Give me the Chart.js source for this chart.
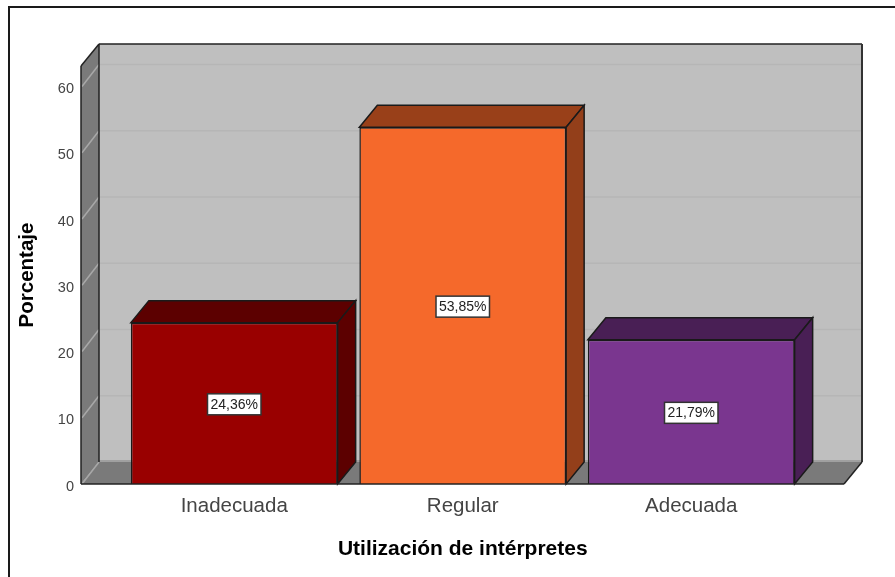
<!DOCTYPE html>
<html>
<head>
<meta charset="utf-8">
<style>
  html, body { margin: 0; padding: 0; background: #fff; overflow: hidden; }
  #frame { position: absolute; left: 8px; top: 6px; width: 887px; height: 571px; border-left: 2px solid #1a1a1a; border-top: 2px solid #1a1a1a; }
  #myChart { position: absolute; left: 0; top: 0; }
</style>
<script src="https://cdn.jsdelivr.net/npm/chart.js@4"></script>
</head>
<body>
<div id="frame"></div>
<canvas id="myChart" width="895" height="577"></canvas>
<script>
const categories = ["Inadecuada", "Regular", "Adecuada"];
const percentages = [24.36, 53.85, 21.79];
const yTicks = [0, 10, 20, 30, 40, 50, 60];
const frontColors = ["#990000", "#f5692b", "#7a368f"];
const topColors = ["#5c0000", "#994019", "#491f55"];
const sideColors = ["#5c0000", "#933f1a", "#491f55"];

const font = '"Liberation Sans", Arial, sans-serif';
const depthX = 18, depthY = -22;
const gapLeft = 39, gapRight = 38.5;

function poly(ctx, pts, fill, stroke, lineWidth) {
  ctx.beginPath();
  pts.forEach((p, i) => (i ? ctx.lineTo(p[0], p[1]) : ctx.moveTo(p[0], p[1])));
  ctx.closePath();
  if (fill) {
    ctx.fillStyle = fill;
    ctx.fill();
  }
  if (stroke) {
    ctx.strokeStyle = stroke;
    ctx.lineWidth = lineWidth || 1;
    ctx.stroke();
  }
}

function segment(ctx, x0, y0, x1, y1, color, width) {
  ctx.strokeStyle = color;
  ctx.lineWidth = width;
  ctx.beginPath();
  ctx.moveTo(x0, y0);
  ctx.lineTo(x1, y1);
  ctx.stroke();
}

const box3d = {
  id: "box3d",
  beforeDraw(chart) {
    // nudge the y tick labels down, they sit a bit under their grid line
    const scale = chart.scales.y;
    scale.getLabelItems().forEach((item) => {
      if (!item.moved) {
        item.options.translation[1] += 2.5;
        item.moved = true;
      }
    });
  },
  beforeDatasetsDraw(chart) {
    const ctx = chart.ctx, area = chart.chartArea, y = chart.scales.y;
    const l = area.left - gapLeft, r = area.right + gapRight;
    const t = area.top, b = area.bottom;
    const edge = "#222";
    const backL = l + depthX, backR = r + depthX;
    const backT = t + depthY, backB = b + depthY;
    ctx.save();
    // back wall, left wall, floor
    poly(ctx, [[backL, backT], [backR, backT], [backR, backB], [backL, backB]], "#bfbfbf");
    poly(ctx, [[l, t], [backL, backT], [backL, backB], [l, b]], "#7a7a7a");
    poly(ctx, [[l, b], [r, b], [backR, backB], [backL, backB]], "#7a7a7a");
    // grid lines go along the left wall and the back wall
    yTicks.forEach((v) => {
      const py = y.getPixelForValue(v);
      segment(ctx, l + 1, py, backL, py + depthY, "#a8a8a8", 1.5);
      if (v > 0) segment(ctx, backL + 1, py + depthY, backR - 1, py + depthY, "#b6b6b6", 1.5);
    });
    segment(ctx, backL, backB - 1, backR, backB - 1, "#a0a0a0", 2);
    // walls outline
    segment(ctx, l, b, l, t, edge, 1.5);
    segment(ctx, l, t, backL, backT, edge, 1.5);
    segment(ctx, backL, backT, backR, backT, edge, 1.5);
    segment(ctx, backL, backT, backL, backB, edge, 1.5);
    segment(ctx, backR, backT, backR, backB, "#333", 2);
    segment(ctx, r, b, backR, backB, edge, 1.5);
    // bar depth faces
    chart.getDatasetMeta(0).data.forEach((bar, i) => {
      const x0 = bar.x - bar.width / 2, x1 = bar.x + bar.width / 2;
      poly(ctx, [[x0, bar.y], [x1, bar.y], [x1 + depthX, bar.y + depthY], [x0 + depthX, bar.y + depthY]], topColors[i], "#1a1a1a", 1.5);
      poly(ctx, [[x1, bar.y], [x1 + depthX, bar.y + depthY], [x1 + depthX, bar.base + depthY], [x1, bar.base]], sideColors[i], "#1a1a1a", 1.5);
    });
    ctx.restore();
  },
  afterDatasetsDraw(chart) {
    const ctx = chart.ctx;
    ctx.save();
    ctx.font = "14px " + font;
    ctx.textAlign = "center";
    ctx.textBaseline = "middle";
    chart.getDatasetMeta(0).data.forEach((bar, i) => {
      const text = percentages[i].toFixed(2).replace(".", ",") + "%";
      const w = ctx.measureText(text).width + 6, h = 21;
      const cy = (bar.y + bar.base) / 2 + 1;
      ctx.fillStyle = "#fff";
      ctx.strokeStyle = "#333";
      ctx.lineWidth = 1.5;
      ctx.fillRect(bar.x - w / 2, cy - h / 2, w, h);
      ctx.strokeRect(bar.x - w / 2, cy - h / 2, w, h);
      ctx.fillStyle = "#222";
      ctx.fillText(text, bar.x, cy + 0.5);
    });
    // front floor line on top of the bar bases
    const area = chart.chartArea;
    segment(ctx, area.left - gapLeft, area.bottom, area.right + gapRight, area.bottom, "#222", 1.5);
    ctx.restore();
  },
};

new Chart(document.getElementById("myChart"), {
  type: "bar",
  data: {
    labels: categories,
    datasets: [
      {
        data: percentages,
        backgroundColor: frontColors,
        borderColor: "#1a1a1a",
        borderWidth: 1.5,
        barPercentage: 0.905,
        categoryPercentage: 1,
      },
    ],
  },
  options: {
    responsive: false,
    animation: false,
    layout: { padding: { top: 66, right: 89.5 } },
    plugins: { legend: { display: false }, tooltip: { enabled: false } },
    scales: {
      x: {
        grid: { display: false },
        border: { display: false },
        ticks: { color: "#444", font: { family: font, size: 20.5 }, padding: 2 },
        title: { display: true, text: "Utilización de intérpretes", color: "#000", font: { family: font, size: 21, weight: "bold" }, padding: { top: 0, bottom: 15 } },
        afterFit(scale) {
          scale.height = 93;
        },
      },
      y: {
        min: 0,
        max: 63.1,
        grid: { display: false, drawTicks: false },
        border: { display: false },
        ticks: { stepSize: 10, includeBounds: false, color: "#444", font: { family: font, size: 14.5 }, padding: 46 },
        title: { display: true, text: "Porcentaje", color: "#000", font: { family: font, size: 20.5, weight: "bold" }, padding: { top: 15, bottom: 0 } },
        afterFit(scale) {
          scale.width = 120;
        },
      },
    },
  },
  plugins: [box3d],
});
</script>
</body>
</html>
